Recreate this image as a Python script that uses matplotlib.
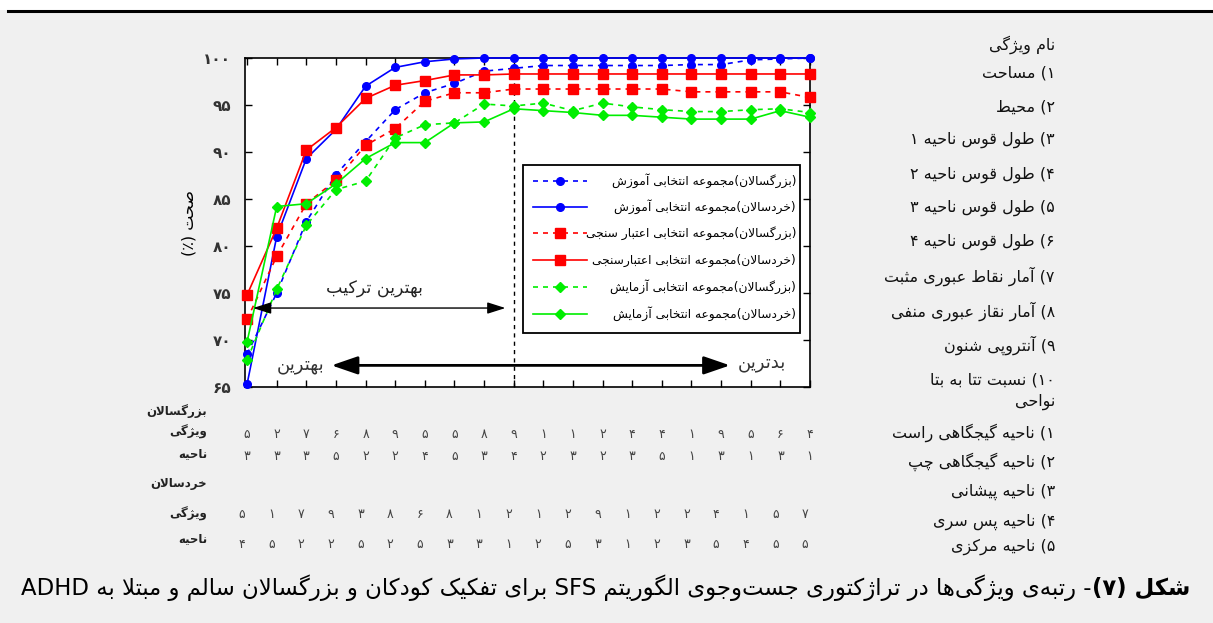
import matplotlib
matplotlib.use("Agg")
import matplotlib.pyplot as plt
from matplotlib.lines import Line2D
from matplotlib.patches import Rectangle

# ---------------- data ----------------
steps = list(range(1, 21))
adults_train = [68.5, 75.0, 82.6, 87.6, 91.1, 94.5, 96.3, 97.3, 98.6, 98.9,
                99.2, 99.2, 99.2, 99.2, 99.2, 99.3, 99.3, 99.8, 99.9, 100.0]
children_train = [65.3, 81.0, 89.3, 92.4, 97.0, 99.0, 99.6, 99.9, 100.0, 100.0,
                  100.0, 100.0, 100.0, 100.0, 100.0, 100.0, 100.0, 100.0, 100.0, 100.0]
adults_valid = [72.2, 78.9, 84.5, 87.0, 90.7, 92.5, 95.4, 96.3, 96.3, 96.7,
                96.7, 96.7, 96.7, 96.7, 96.7, 96.4, 96.4, 96.4, 96.4, 95.8]
children_valid = [74.8, 81.9, 90.2, 92.6, 95.7, 97.1, 97.6, 98.2, 98.2, 98.3,
                  98.3, 98.3, 98.3, 98.3, 98.3, 98.3, 98.3, 98.3, 98.3, 98.3]
adults_test = [67.9, 75.4, 82.2, 86.0, 86.9, 91.5, 92.9, 93.1, 95.1, 94.9,
               95.2, 94.4, 95.2, 94.8, 94.5, 94.3, 94.3, 94.5, 94.6, 94.2]
children_test = [69.8, 84.2, 84.5, 86.6, 89.3, 91.0, 91.0, 93.1, 93.2, 94.6,
                 94.4, 94.2, 93.9, 93.9, 93.7, 93.5, 93.5, 93.5, 94.4, 93.7]

adults_feature = [5, 2, 7, 6, 8, 9, 5, 5, 8, 9, 1, 1, 2, 4, 4, 1, 9, 5, 6, 4]
adults_region = [3, 3, 3, 5, 2, 2, 4, 5, 3, 4, 2, 3, 2, 3, 5, 1, 3, 1, 3, 1]
children_feature = [5, 1, 7, 9, 3, 8, 6, 8, 1, 2, 1, 2, 9, 1, 2, 2, 4, 1, 5, 7]
children_region = [4, 5, 2, 2, 5, 2, 5, 3, 3, 1, 2, 5, 3, 1, 2, 3, 5, 4, 5, 5]

y_ticks = [65, 70, 75, 80, 85, 90, 95, 100]
best_step = 10

legend_labels = [
    "(بزرگسالان)مجموعه انتخابی آموزش",
    "(خردسالان)مجموعه انتخابی آموزش",
    "(بزرگسالان)مجموعه انتخابی اعتبار سنجی",
    "(خردسالان)مجموعه انتخابی اعتبارسنجی",
    "(بزرگسالان)مجموعه انتخابی آزمایش",
    "(خردسالان)مجموعه انتخابی آزمایش",
]
feature_names = [
    "نام ویژگی", "۱) مساحت", "۲) محیط", "۳) طول قوس ناحیه ۱", "۴) طول قوس ناحیه ۲",
    "۵) طول قوس ناحیه ۳", "۶) طول قوس ناحیه ۴", "۷) آمار نقاط عبوری مثبت",
    "۸) آمار نقاز عبوری منفی", "۹) آنتروپی شنون", "۱۰) نسبت تتا به بتا",
    "نواحی", "۱) ناحیه گیجگاهی راست", "۲) ناحیه گیجگاهی چپ", "۳) ناحیه پیشانی",
    "۴) ناحیه پس سری", "۵) ناحیه مرکزی",
]
caption_bold = "شکل (۷)"
caption_rest = "- رتبه\u200cی ویژگی\u200cها در تراژکتوری جست\u200cوجوی الگوریتم SFS برای تفکیک کودکان و بزرگسالان سالم و مبتلا به ADHD"

# ---------------- Persian shaping helpers ----------------
DUAL = {'ب': 0xFE8F, 'پ': 0xFB56, 'ت': 0xFE95, 'ث': 0xFE99, 'ج': 0xFE9D, 'چ': 0xFB7A,
        'ح': 0xFEA1, 'خ': 0xFEA5, 'س': 0xFEB1, 'ش': 0xFEB5, 'ص': 0xFEB9, 'ض': 0xFEBD,
        'ط': 0xFEC1, 'ظ': 0xFEC5, 'ع': 0xFEC9, 'غ': 0xFECD, 'ف': 0xFED1, 'ق': 0xFED5,
        'ک': 0xFB8E, 'گ': 0xFB92, 'ل': 0xFEDD, 'م': 0xFEE1, 'ن': 0xFEE5, 'ه': 0xFEE9,
        'ی': 0xFBFC, 'ئ': 0xFE89}
RIGHT = {'ا': 0xFE8D, 'آ': 0xFE81, 'د': 0xFEA9, 'ذ': 0xFEAB, 'ر': 0xFEAD, 'ز': 0xFEAF,
         'ژ': 0xFB8A, 'و': 0xFEED}
LTR = set("0123456789۰۱۲۳۴۵۶۷۸۹ABCDEFGHIJKLMNOPQRSTUVWXYZabcdefghijklmnopqrstuvwxyz")
FA_DIG = "۰۱۲۳۴۵۶۷۸۹"


def shape(s):
    units = []
    i = 0
    while i < len(s):
        c = s[i]
        if c == 'ل' and i + 1 < len(s) and s[i + 1] in ('ا', 'آ'):
            units.append(('LA', 0xFEFB if s[i + 1] == 'ا' else 0xFEF5))
            i += 2
            continue
        units.append((c, None))
        i += 1

    def jt(u):
        c = u[0]
        if c == 'LA':
            return 'R'
        if c in DUAL:
            return 'D'
        if c in RIGHT:
            return 'R'
        return 'U'

    out = []
    for k, u in enumerate(units):
        t = jt(u)
        prev = jt(units[k - 1]) if k > 0 else 'U'
        nxt = jt(units[k + 1]) if k + 1 < len(units) else 'U'
        jp = t in ('D', 'R') and prev == 'D'
        jn = t == 'D' and nxt in ('D', 'R')
        if u[0] == 'LA':
            out.append(chr(u[1] + (1 if jp else 0)))
        elif t == 'D':
            idx = 3 if (jp and jn) else 2 if jn else 1 if jp else 0
            out.append(chr(DUAL[u[0]] + idx))
        elif t == 'R':
            out.append(chr(RIGHT[u[0]] + (1 if jp else 0)))
        elif u[0] != '\u200c':
            out.append(u[0])
    return ''.join(out)


def fa(s):
    r = shape(s)[::-1]
    out, run = [], []
    for ch in r:
        if ch in LTR:
            run.append(ch)
        else:
            if run:
                out.append(''.join(run[::-1]))
                run = []
            out.append({'(': ')', ')': '('}.get(ch, ch))
    if run:
        out.append(''.join(run[::-1]))
    return ''.join(out)


def fa_num(n):
    return ''.join(FA_DIG[int(d)] for d in str(n))


# ---------------- figure ----------------
W, H = 1213, 623
plt.rcParams['font.family'] = ['DejaVu Sans']
fig = plt.figure(figsize=(W / 100, H / 100), dpi=100, facecolor='#f0f0f0')


def P(x, y):
    return (x / W, 1 - y / H)


# top white band + black rule
fig.patches.append(Rectangle((0, 1 - 10 / H), 1, 10 / H, transform=fig.transFigure,
                             facecolor='white', edgecolor='none', zorder=0))
fig.add_artist(Line2D([8 / W, 1], [1 - 11 / H, 1 - 11 / H], transform=fig.transFigure,
                      color='black', lw=2.2))

ax_l, ax_r, ax_t, ax_b = 245, 810, 58, 387
ax = fig.add_axes([ax_l / W, 1 - ax_b / H, (ax_r - ax_l) / W, (ax_b - ax_t) / H])
ax.set_facecolor('white')

BLUE, RED, GREEN = '#0000ff', '#ff0000', '#00ee00'
DASH = (0, (3, 3))
series = [
    (adults_train, BLUE, DASH, 'o', 5.5),
    (children_train, BLUE, '-', 'o', 5.5),
    (adults_valid, RED, DASH, 's', 7.5),
    (children_valid, RED, '-', 's', 7.5),
    (adults_test, GREEN, DASH, 'D', 5.5),
    (children_test, GREEN, '-', 'D', 5.5),
]
for vals, col, ls, mk, ms in series:
    ax.plot(steps, vals, color=col, linestyle=ls, lw=1.2, marker=mk, ms=ms,
            markeredgecolor=col, markerfacecolor=col, clip_on=False, zorder=3)

ax.set_xlim(0.93, 20)
ax.set_ylim(65, 100)
ax.set_xticks(steps)
ax.set_xticklabels([])
ax.set_yticks(y_ticks)
ax.set_yticklabels([fa_num(v) for v in y_ticks], fontsize=11, fontweight='bold', color='#333333')
ax.tick_params(direction='in', top=True, right=True, length=5, width=1, pad=10)
for sp in ax.spines.values():
    sp.set_linewidth(1.2)

ax.axvline(best_step, color='black', lw=1, linestyle=(0, (3, 3)), zorder=2)

ax.set_ylabel(fa("صحت (٪)"), fontsize=11.5, labelpad=5)

# arrows
ax.annotate('', xy=(1.2, 73.4), xytext=(9.72, 73.4),
            arrowprops=dict(arrowstyle='<|-|>,head_length=1.1,head_width=0.35',
                            color='black', lw=1, shrinkA=0, shrinkB=0))
ax.text(5.3, 75.4, fa("بهترین ترکیب"), ha='center', va='center', fontsize=12.5,
        color='#222222')
ax.annotate('', xy=(3.85, 67.3), xytext=(17.3, 67.3),
            arrowprops=dict(arrowstyle='<|-|>,head_length=1.6,head_width=0.55',
                            color='black', lw=2, shrinkA=0, shrinkB=0))
ax.text(3.6, 67.3, fa("بهترین"), ha='right', va='center', fontsize=13, color='#333333')
ax.text(17.55, 67.5, fa("بدترین"), ha='left', va='center', fontsize=13, color='#333333')


# legend (manual, right-aligned Persian labels)
def A(x, y):
    return ((x - ax_l) / (ax_r - ax_l), (ax_b - y) / (ax_b - ax_t))


lx0, ly0 = A(523, 333)
lx1, ly1 = A(800, 165)
ax.add_patch(Rectangle((lx0, ly0), lx1 - lx0, ly1 - ly0, transform=ax.transAxes,
                       facecolor='white', edgecolor='black', lw=1.3, zorder=5))
rows_y = [181, 207, 233, 260, 287, 314]
for (vals, col, ls, mk, ms), lab, ry in zip(series, legend_labels, rows_y):
    (xa, ya), (xb, _) = A(533, ry), A(587, ry)
    ax.add_line(Line2D([xa, xb], [ya, ya], transform=ax.transAxes, color=col,
                       linestyle=ls, lw=1.2, zorder=6))
    xm, _ = A(560, ry)
    ax.add_line(Line2D([xm], [ya], transform=ax.transAxes, color=col, marker=mk,
                       ms=ms, linestyle='none', zorder=6))
    xt, _ = A(796, ry)
    ax.text(xt, ya, fa(lab), transform=ax.transAxes, ha='right', va='center',
            fontsize=8.8, zorder=7)

# rank table below axes
for idx, s in enumerate(steps):
    xd = ax.transData.transform((s, 0))[0]
    xa = xd / W
    fig.text(xa, 1 - 435 / H, fa_num(adults_feature[idx]), ha='center', va='center',
             fontsize=9, color='#444444')
    fig.text(xa, 1 - 457 / H, fa_num(adults_region[idx]), ha='center', va='center',
             fontsize=9, color='#444444')
    fig.text(xa - 5 / W, 1 - 515 / H, fa_num(children_feature[idx]), ha='center', va='center',
             fontsize=9, color='#444444')
    fig.text(xa - 5 / W, 1 - 545 / H, fa_num(children_region[idx]), ha='center', va='center',
             fontsize=9, color='#444444')

left_labels = [("بزرگسالان", 411), ("ویژگی", 432), ("ناحیه", 454),
               ("خردسالان", 484), ("ویژگی", 514), ("ناحیه", 539)]
for txt, yy in left_labels:
    fig.text(*P(207, yy), fa(txt), ha='right', va='center', fontsize=8.5, fontweight='bold',
             color='#222222')

# feature / region names on the right
name_y = [45, 73, 107, 140, 175, 208, 242, 276, 311, 345, 380, 402, 433, 462, 492, 522, 547]
for txt, yy in zip(feature_names, name_y):
    fig.text(*P(1055, yy), fa(txt), ha='right', va='center', fontsize=11.5, color='#111111')

# caption
renderer = fig.canvas.get_renderer()
tb = fig.text(*P(1190, 588), fa(caption_bold), ha='right', va='center', fontsize=16.4,
              fontweight='bold')
bb = tb.get_window_extent(renderer)
fig.text(bb.x0 / W, 1 - 588 / H, fa(caption_rest), ha='right', va='center', fontsize=16.4)

fig.savefig('out.png', dpi=100, facecolor=fig.get_facecolor())
